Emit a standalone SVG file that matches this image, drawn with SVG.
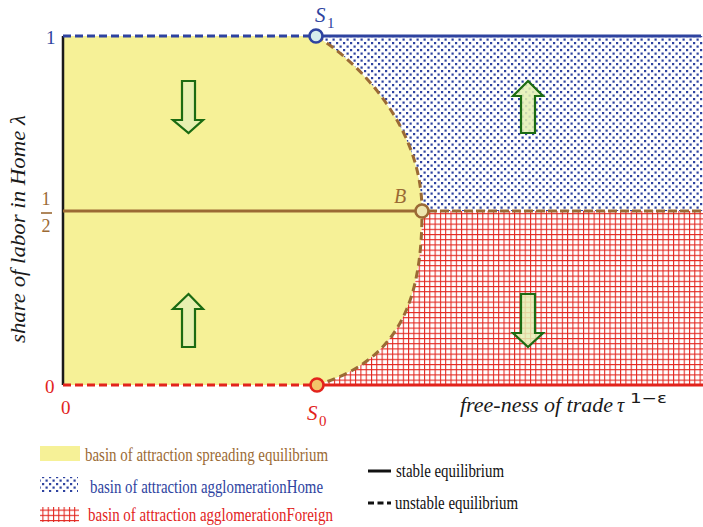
<svg xmlns="http://www.w3.org/2000/svg" width="703" height="527" viewBox="0 0 703 527">
<defs>
<pattern id="dots" width="7" height="7" patternUnits="userSpaceOnUse">
<rect width="7" height="7" fill="#ffffff"/>
<rect x="0" y="0" width="2.2" height="2.2" fill="#2e43a0"/>
<rect x="3.5" y="3.5" width="2.2" height="2.2" fill="#2e43a0"/>
</pattern>
<pattern id="grid" width="5.3" height="5.2" patternUnits="userSpaceOnUse">
<rect width="5.3" height="5.2" fill="#ffffff"/>
<path d="M0.5,0 V5.2 M0,0.5 H5.3" stroke="#e2231c" stroke-width="1.1" fill="none"/>
</pattern>
<style>
text{font-family:"Liberation Serif","DejaVu Serif",serif;}
.it{font-style:italic;}
.arrow{fill:#e4f0b4;fill-opacity:0.85;stroke:#1b6b12;stroke-width:2.2;stroke-linejoin:miter;}
.blue{fill:#2e43a0;}
.red{fill:#e2231c;}
.brown{fill:#9b6a34;}
</style>
</defs>

<g id="regions">
<path id="spreading-basin" d="M63,36 L316,36 C350,56 422,120 422,211 C422,300 400,360 317,385 L63,385 Z" fill="#f6f197"/>
<path id="home-basin" d="M316,36 L703,36 L703,211 L422,211 C422,120 350,56 316,36 Z" fill="url(#dots)"/>
<path id="foreign-basin" d="M422,211 L703,211 L703,385 L317,385 C400,360 422,300 422,211 Z" fill="url(#grid)"/>
</g>

<g id="connectors" fill="none">
<path d="M316,36 C350,56 422,120 422,211 C422,300 400,360 317,385" stroke="#9b6a34" stroke-width="3" stroke-dasharray="8,5"/>
<line x1="63" y1="36" x2="63" y2="385" stroke="#1a1a1a" stroke-width="2.5"/>
<line x1="63" y1="36" x2="310" y2="36" stroke="#2e43a0" stroke-width="2.8" stroke-dasharray="8,4"/>
<line x1="322" y1="36" x2="701" y2="36" stroke="#2e43a0" stroke-width="3"/>
<line x1="63" y1="385" x2="311" y2="385" stroke="#e2231c" stroke-width="2.8" stroke-dasharray="8,4"/>
<line x1="323" y1="385" x2="703" y2="385" stroke="#e2231c" stroke-width="3"/>
<line x1="63" y1="211" x2="416" y2="211" stroke="#9b6a34" stroke-width="3"/>
<line x1="428" y1="211" x2="703" y2="211" stroke="#9b6a34" stroke-width="3" stroke-dasharray="9,3"/>
</g>

<g id="arrows">
<path class="arrow" d="M182,81 H195 V120 H203 L188.5,133 L173,120 H182 Z"/>
<path class="arrow" d="M528,81 L543,96 H535 V133 H521 V96 H513 Z"/>
<path class="arrow" d="M188.5,294 L203,309 H195 V347 H182 V309 H173 Z"/>
<path class="arrow" d="M521,294 H535 V333 H543 L528,347 L513,333 H521 Z"/>
</g>

<g id="node-S1">
<circle cx="316" cy="36" r="6.5" fill="#d6ecec" stroke="#2e43a0" stroke-width="2.6"/>
<text class="it blue" x="315" y="22" font-size="21" font-family="Liberation Serif, serif">S</text>
<text class="blue" x="327" y="28" font-size="15" font-family="Liberation Serif, serif">1</text>
</g>
<g id="node-S0">
<circle cx="317" cy="385" r="6.5" fill="#f2c36a" stroke="#e2231c" stroke-width="2.6"/>
<text class="it red" x="307" y="420" font-size="21" font-family="Liberation Serif, serif">S</text>
<text class="red" x="319" y="426" font-size="15" font-family="Liberation Serif, serif">0</text>
</g>
<g id="node-B">
<circle cx="422" cy="211" r="6.5" fill="#eee6b0" stroke="#9b6a34" stroke-width="2.6"/>
<text class="it brown" x="394" y="203" font-size="20" font-family="Liberation Serif, serif">B</text>
</g>

<g id="axis-labels">
<text class="blue" x="46" y="44" font-size="19" font-family="Liberation Serif, serif">1</text>
<text class="brown" x="41.5" y="205" font-size="18" font-family="Liberation Serif, serif">1</text>
<line x1="41" y1="213" x2="52" y2="213" stroke="#9b6a34" stroke-width="1.6"/>
<text class="brown" x="41.5" y="232" font-size="18" font-family="Liberation Serif, serif">2</text>
<text class="red" x="45" y="393" font-size="19" font-family="Liberation Serif, serif">0</text>
<text class="red" x="61" y="414" font-size="19" font-family="Liberation Serif, serif">0</text>
<text class="it" x="460" y="412" font-size="20" fill="#1a1a1a" font-family="Liberation Serif, serif" textLength="153" lengthAdjust="spacingAndGlyphs">free-ness of trade</text>
<text class="it" x="617" y="412" font-size="20" fill="#1a1a1a" font-family="Liberation Serif, serif">τ</text>
<text x="630" y="403" font-size="14" fill="#1a1a1a" style="font-family:'DejaVu Sans',sans-serif" textLength="37" lengthAdjust="spacingAndGlyphs">1−ε</text>
<text class="it" transform="translate(25,229) rotate(-90)" text-anchor="middle" font-size="20" fill="#1a1a1a" font-family="Liberation Serif, serif" textLength="228" lengthAdjust="spacingAndGlyphs">share of labor in Home λ</text>
</g>

<g id="legend">
<rect x="40" y="446" width="40" height="15" fill="#f6f197"/>
<text class="brown" x="85" y="461" font-size="18" font-family="Liberation Serif, serif" textLength="243" lengthAdjust="spacingAndGlyphs">basin of attraction spreading equilibrium</text>
<rect x="40" y="477" width="38" height="15" fill="url(#dots)"/>
<text class="blue" x="90" y="493" font-size="18" font-family="Liberation Serif, serif" textLength="233" lengthAdjust="spacingAndGlyphs">basin of attraction agglomerationHome</text>
<rect x="40" y="507" width="39" height="15" fill="url(#grid)"/>
<text class="red" x="88" y="521" font-size="18" font-family="Liberation Serif, serif" textLength="245" lengthAdjust="spacingAndGlyphs">basin of attraction agglomerationForeign</text>
<line x1="368" y1="471" x2="391" y2="471" stroke="#111111" stroke-width="3"/>
<text x="396" y="477" font-size="18" fill="#111111" font-family="Liberation Serif, serif" textLength="108" lengthAdjust="spacingAndGlyphs">stable equilibrium</text>
<line x1="368" y1="503" x2="391" y2="503" stroke="#111111" stroke-width="3" stroke-dasharray="6,3.5"/>
<text x="395" y="509" font-size="18" fill="#111111" font-family="Liberation Serif, serif" textLength="123" lengthAdjust="spacingAndGlyphs">unstable equilibrium</text>
</g>
</svg>
